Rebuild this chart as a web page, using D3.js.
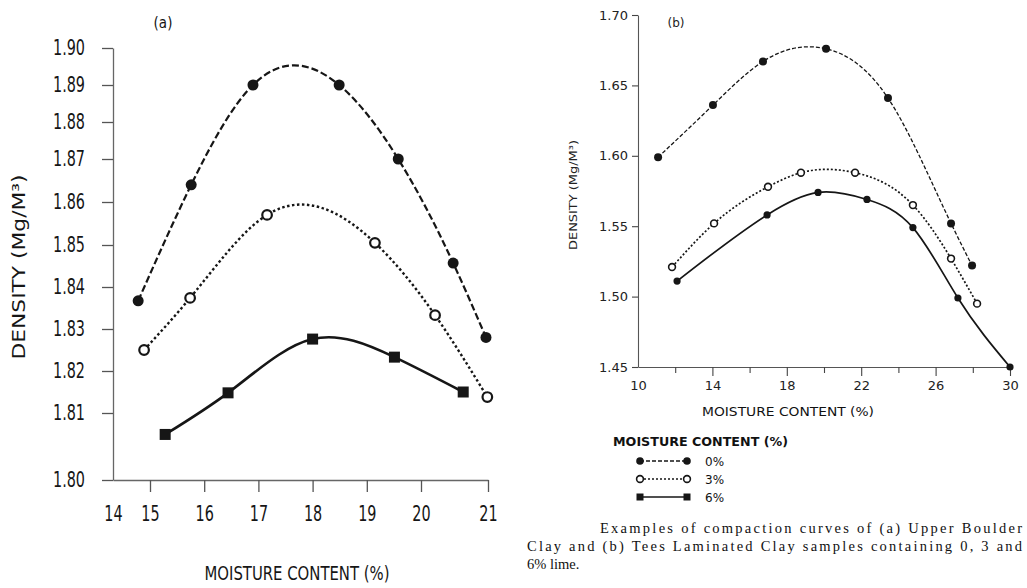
<!DOCTYPE html>
<html><head><meta charset="utf-8">
<script src="https://cdn.jsdelivr.net/npm/d3@7"></script>
<style>
html,body{margin:0;padding:0;background:#fff;}
svg{display:block;}
</style></head>
<body>
<svg id="c" width="1027" height="588"></svg>
<script>
// ---------- data (a) Upper Boulder Clay ----------
const seriesNames = ["0%", "3%", "6%"];
const xTicksA = [14, 15, 16, 17, 18, 19, 20, 21];
const yTicksA = [1.80, 1.81, 1.82, 1.83, 1.84, 1.85, 1.86, 1.87, 1.88, 1.89, 1.90];
const a0x = [14.68, 15.76, 16.90, 18.49, 19.58, 20.48, 20.97];
const a0y = [1.8367, 1.864, 1.890, 1.890, 1.870, 1.8457, 1.828];
const a3x = [14.84, 15.74, 17.16, 19.15, 20.21, 20.99];
const a3y = [1.825, 1.8374, 1.857, 1.8505, 1.8333, 1.8138];
const a6x = [15.28, 16.44, 18.00, 19.51, 20.63];
const a6y = [1.8068, 1.8148, 1.8276, 1.8233, 1.815];

// ---------- data (b) Tees Laminated Clay ----------
const xTicksB = [10, 12, 14, 16, 18, 20, 22, 24, 26, 28, 30];
const xLabelsB = [10, 14, 18, 22, 26, 30];
const yTicksB = [1.45, 1.50, 1.55, 1.60, 1.65, 1.70];
const b0x = [11.08, 14.03, 16.72, 20.11, 23.44, 26.83, 27.96];
const b0y = [1.599, 1.636, 1.667, 1.676, 1.641, 1.552, 1.522];
const b3x = [11.83, 14.09, 16.99, 18.76, 21.67, 24.78, 26.83, 28.23];
const b3y = [1.521, 1.552, 1.578, 1.588, 1.588, 1.565, 1.527, 1.495];
const b6x = [12.10, 16.94, 19.68, 22.31, 24.78, 27.20, 30.00];
const b6y = [1.511, 1.558, 1.574, 1.569, 1.549, 1.499, 1.450];

const captionLines = [
  "Examples of compaction curves of (a) Upper Boulder",
  "Clay and (b) Tees Laminated Clay samples containing 0, 3 and",
  "6% lime."
];

const zip = (xs, ys) => xs.map((x, i) => [x, ys[i]]);
const svg = d3.select("#c");
const INK = "#161616";
const CONDENSED = "'DejaVu Sans Condensed','DejaVu Sans',sans-serif";
const GEO = "'DejaVu Sans',sans-serif";

// natural cubic spline with y as a function of x (custom d3 curve)
function NaturalX(context) { this._context = context; }
NaturalX.prototype = {
  areaStart() { this._line = 0; },
  areaEnd() { this._line = NaN; },
  lineStart() { this._x = []; this._y = []; },
  point(x, y) { this._x.push(+x); this._y.push(+y); },
  lineEnd() {
    const X = this._x, Y = this._y, n = X.length, c = this._context;
    if (!n) return;
    c.moveTo(X[0], Y[0]);
    if (n === 2) { c.lineTo(X[1], Y[1]); return; }
    const h = [], M = new Array(n).fill(0);
    for (let i = 0; i < n - 1; i++) h.push(X[i + 1] - X[i]);
    // tridiagonal solve for interior second derivatives
    const a = [], b = [], cc = [], r = [];
    for (let i = 1; i < n - 1; i++) {
      a.push(h[i - 1]); b.push(2 * (h[i - 1] + h[i])); cc.push(h[i]);
      r.push(6 * ((Y[i + 1] - Y[i]) / h[i] - (Y[i] - Y[i - 1]) / h[i - 1]));
    }
    const m = r.length;
    for (let i = 1; i < m; i++) {
      const w = a[i] / b[i - 1];
      b[i] -= w * cc[i - 1]; r[i] -= w * r[i - 1];
    }
    const sol = new Array(m);
    sol[m - 1] = r[m - 1] / b[m - 1];
    for (let i = m - 2; i >= 0; i--) sol[i] = (r[i] - cc[i] * sol[i + 1]) / b[i];
    for (let i = 0; i < m; i++) M[i + 1] = sol[i];
    for (let i = 0; i < n - 1; i++) {
      const hi = h[i], s = (Y[i + 1] - Y[i]) / hi;
      const d0 = s - hi * (2 * M[i] + M[i + 1]) / 6;
      const d1 = s + hi * (M[i] + 2 * M[i + 1]) / 6;
      c.bezierCurveTo(X[i] + hi / 3, Y[i] + d0 * hi / 3, X[i + 1] - hi / 3, Y[i + 1] - d1 * hi / 3, X[i + 1], Y[i + 1]);
    }
  }
};
const curveNaturalX = context => new NaturalX(context);

function squeeze(sel, ratio) {
  sel.each(function () {
    const w = this.getComputedTextLength();
    d3.select(this).attr("textLength", w * ratio).attr("lengthAdjust", "spacingAndGlyphs");
  });
}

// ================= Panel (a) =================
const xA = d3.scaleLinear().domain([14, 15, 20, 21]).range([113, 150, 421, 488]);
const yA = d3.scaleLinear().domain([1.80, 1.81, 1.85, 1.87, 1.90]).range([480, 413, 245, 159, 48]);

const gA = svg.append("g");
const yAxA = gA.append("g").attr("transform", `translate(${xA(14)},0)`)
  .call(d3.axisLeft(yA).tickValues(yTicksA).tickFormat(d3.format(".2f")).tickSize(11).tickSizeOuter(0).tickPadding(17));
const xAxA = gA.append("g").attr("transform", `translate(0,${yA(1.80)})`)
  .call(d3.axisBottom(xA).tickValues(xTicksA).tickFormat(d3.format("d")).tickSize(12).tickSizeOuter(0).tickPadding(14));
[yAxA, xAxA].forEach(ax => {
  ax.select(".domain").attr("stroke", "#666").attr("stroke-width", 1.3);
  ax.selectAll(".tick line").attr("stroke", "#555").attr("stroke-width", 1.3);
  ax.selectAll(".tick text").attr("fill", INK).attr("font-family", CONDENSED).attr("font-size", 21);
});
xAxA.selectAll(".tick").filter(d => d === 14).select("line").remove();
let ratioA = 0.75;
yAxA.selectAll(".tick text").filter(d => d === 1.90).each(function () { ratioA = 32 / this.getComputedTextLength(); });
squeeze(yAxA.selectAll(".tick text"), ratioA);
squeeze(xAxA.selectAll(".tick text"), ratioA);

gA.append("text").attr("x", 163).attr("y", 28).attr("text-anchor", "middle")
  .attr("font-family", CONDENSED).attr("font-size", 15).attr("fill", INK).text("(a)");
gA.append("text").attr("x", 297).attr("y", 580).attr("text-anchor", "middle")
  .attr("font-family", CONDENSED).attr("font-size", 20).attr("fill", INK)
  .attr("textLength", 185).attr("lengthAdjust", "spacingAndGlyphs").text("MOISTURE CONTENT (%)");
gA.append("text").attr("transform", "translate(25,267) rotate(-90)").attr("text-anchor", "middle")
  .attr("font-family", CONDENSED).attr("font-size", 17).attr("fill", INK)
  .attr("textLength", 185).attr("lengthAdjust", "spacingAndGlyphs").text("DENSITY (Mg/M³)");

const lineA = d3.line().x(d => xA(d[0])).y(d => yA(d[1])).curve(curveNaturalX);
const styleA = [
  { data: zip(a0x, a0y), dash: "7,3", w: 2.2 },
  { data: zip(a3x, a3y), dash: "2.5,2.5", w: 2.4 },
  { data: zip(a6x, a6y), dash: null, w: 2.6 }
];
styleA.forEach(s => {
  gA.append("path").datum(s.data).attr("d", lineA).attr("fill", "none")
    .attr("stroke", INK).attr("stroke-width", s.w).attr("stroke-dasharray", s.dash);
});
gA.selectAll(".m0").data(styleA[0].data).join("circle").attr("cx", d => xA(d[0])).attr("cy", d => yA(d[1]))
  .attr("r", 5.5).attr("fill", INK);
gA.selectAll(".m3").data(styleA[1].data).join("circle").attr("cx", d => xA(d[0])).attr("cy", d => yA(d[1]))
  .attr("r", 4.8).attr("fill", "#fff").attr("stroke", INK).attr("stroke-width", 2.2);
gA.selectAll(".m6").data(styleA[2].data).join("rect").attr("x", d => xA(d[0]) - 5.5).attr("y", d => yA(d[1]) - 5.5)
  .attr("width", 11).attr("height", 11).attr("fill", INK);

// ================= Panel (b) =================
const xB = d3.scaleLinear().domain([10, 30]).range([638, 1010]);
const yB = d3.scaleLinear().domain([1.45, 1.70]).range([367, 15]);
const gB = svg.append("g");
const yAxB = gB.append("g").attr("transform", `translate(${xB(10)},0)`)
  .call(d3.axisLeft(yB).tickValues(yTicksB).tickFormat(d3.format(".2f")).tickSize(6).tickSizeOuter(0).tickPadding(4));
const xAxB = gB.append("g").attr("transform", `translate(0,${yB(1.45)})`)
  .call(d3.axisBottom(xB).tickValues(xTicksB).tickFormat(d => xLabelsB.includes(d) ? d : "").tickSize(9).tickSizeOuter(0).tickPadding(5));
[yAxB, xAxB].forEach(ax => {
  ax.select(".domain").attr("stroke", "#555").attr("stroke-width", 1.1);
  ax.selectAll(".tick line").attr("stroke", "#444").attr("stroke-width", 1.1);
  ax.selectAll(".tick text").attr("fill", "#222").attr("font-family", GEO).attr("font-size", 13);
});
xAxB.selectAll(".tick").filter(d => !xLabelsB.includes(d)).select("line").attr("y2", 6);
xAxB.selectAll(".tick").filter(d => d === 10).select("line").remove();

gB.append("text").attr("x", 676).attr("y", 27).attr("text-anchor", "middle")
  .attr("font-family", GEO).attr("font-size", 12).attr("fill", "#222").text("(b)");
gB.append("text").attr("x", 788).attr("y", 416).attr("text-anchor", "middle")
  .attr("font-family", GEO).attr("font-size", 13).attr("fill", "#111")
  .attr("textLength", 172).attr("lengthAdjust", "spacingAndGlyphs").text("MOISTURE CONTENT (%)");
gB.append("text").attr("transform", "translate(577,195) rotate(-90)").attr("text-anchor", "middle")
  .attr("font-family", GEO).attr("font-size", 11).attr("fill", "#222")
  .attr("textLength", 110).attr("lengthAdjust", "spacingAndGlyphs").text("DENSITY (Mg/M³)");

const lineB = d3.line().x(d => xB(d[0])).y(d => yB(d[1])).curve(curveNaturalX);
const styleB = [
  { data: zip(b0x, b0y), dash: "4,2", w: 1.3 },
  { data: zip(b3x, b3y), dash: "2,2", w: 1.7 },
  { data: zip(b6x, b6y), dash: null, w: 1.7 }
];
styleB.forEach(s => {
  gB.append("path").datum(s.data).attr("d", lineB).attr("fill", "none")
    .attr("stroke", INK).attr("stroke-width", s.w).attr("stroke-dasharray", s.dash);
});
gB.selectAll(".m0").data(styleB[0].data).join("circle").attr("cx", d => xB(d[0])).attr("cy", d => yB(d[1]))
  .attr("r", 4).attr("fill", INK);
gB.selectAll(".m3").data(styleB[1].data).join("circle").attr("cx", d => xB(d[0])).attr("cy", d => yB(d[1]))
  .attr("r", 3.4).attr("fill", "#fff").attr("stroke", INK).attr("stroke-width", 1.6);
gB.selectAll(".m6").data(styleB[2].data).join("circle").attr("cx", d => xB(d[0])).attr("cy", d => yB(d[1]))
  .attr("r", 3.6).attr("fill", INK);

// ================= Legend =================
const lg = svg.append("g");
lg.append("text").attr("x", 613).attr("y", 446).attr("font-family", GEO).attr("font-size", 12)
  .attr("font-weight", "bold").attr("fill", "#111")
  .attr("textLength", 175).attr("lengthAdjust", "spacingAndGlyphs").text("MOISTURE CONTENT (%)");
const legY = d3.scalePoint().domain(seriesNames).range([461, 497]);
const legDash = ["4,2", "2,2", null];
seriesNames.forEach((n, i) => {
  const y = legY(n);
  lg.append("line").attr("x1", 640).attr("x2", 687).attr("y1", y).attr("y2", y)
    .attr("stroke", INK).attr("stroke-width", 1.5).attr("stroke-dasharray", legDash[i]);
  [640, 687].forEach(x => {
    if (i === 0) lg.append("circle").attr("cx", x).attr("cy", y).attr("r", 3.8).attr("fill", INK);
    else if (i === 1) lg.append("circle").attr("cx", x).attr("cy", y).attr("r", 3.4).attr("fill", "#fff").attr("stroke", INK).attr("stroke-width", 1.6);
    else lg.append("rect").attr("x", x - 3.5).attr("y", y - 3.5).attr("width", 7).attr("height", 7).attr("fill", INK);
  });
  lg.append("text").attr("x", 705).attr("y", y + 4.5).attr("font-family", GEO).attr("font-size", 12)
    .attr("fill", "#111").text(n);
});

// ================= Caption =================
const cap = svg.append("g").attr("font-family", "'Liberation Serif','Times New Roman',serif")
  .attr("font-size", 14.5).attr("fill", "#111");
cap.append("text").attr("x", 600).attr("y", 533).attr("textLength", 422).attr("lengthAdjust", "spacing").text(captionLines[0]);
cap.append("text").attr("x", 527).attr("y", 551).attr("textLength", 495).attr("lengthAdjust", "spacing").text(captionLines[1]);
cap.append("text").attr("x", 527).attr("y", 569).text(captionLines[2]);
</script>
</body></html>
